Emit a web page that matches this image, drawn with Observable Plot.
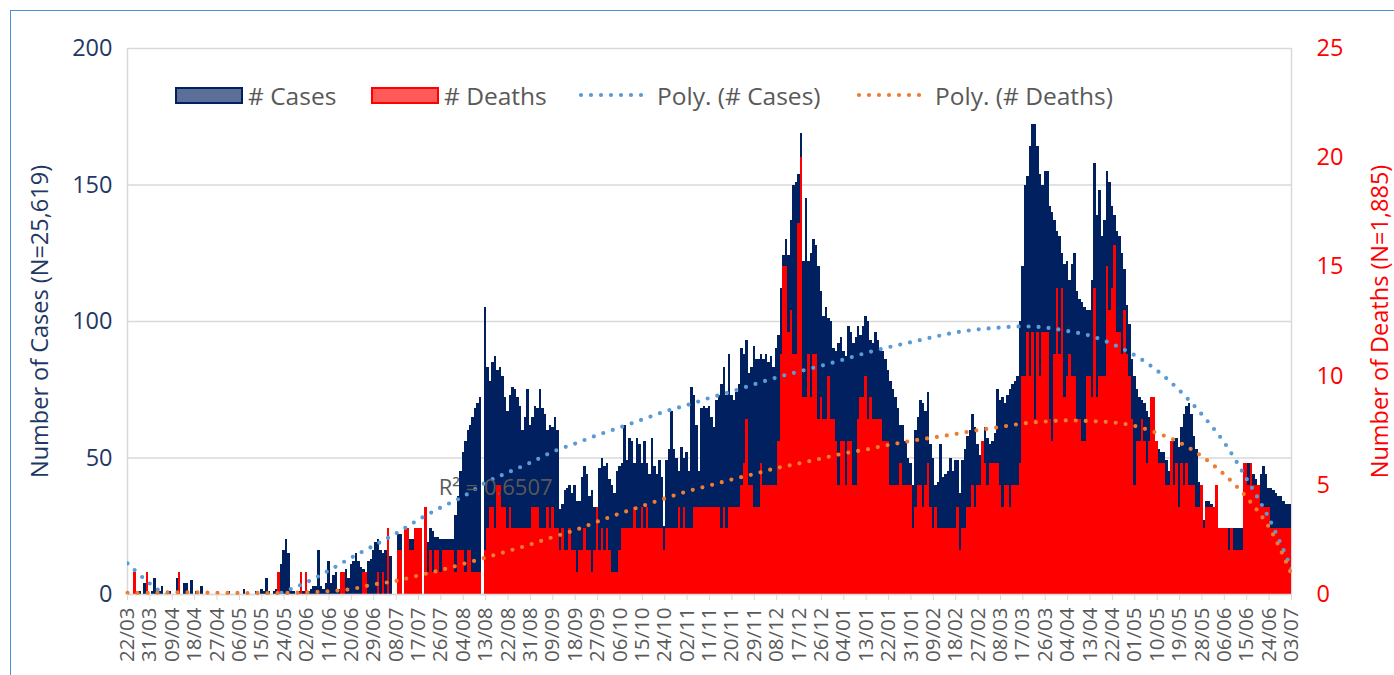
<!DOCTYPE html>
<html>
<head>
<meta charset="utf-8">
<script src="https://cdn.jsdelivr.net/npm/d3@7"></script>
<script src="https://cdn.jsdelivr.net/npm/@observablehq/plot@0.6"></script>
<style>
  html, body { margin: 0; padding: 0; background: #fff; }
  #wrap { position: relative; width: 1394px; height: 675px; overflow: hidden; font-family: "Open Sans", "Noto Sans", sans-serif; }
  #frame { position: absolute; left: 10px; top: 10px; right: -2px; bottom: -2px; border-top: 1.5px solid #4a8fd4; border-left: 1.5px solid #4a8fd4; }
  #chart { position: absolute; left: 0; top: 0; }
  .leg { position: absolute; top: 80px; height: 30px; display: flex; align-items: center; font-size: 24.5px; color: #595959; white-space: nowrap; }
  .sw { width: 68px; height: 17px; box-sizing: border-box; margin-right: 5px; }
</style>
</head>
<body>
<div id="wrap">
  <div id="frame"></div>
  <div id="chart"></div>
</div>
<script>
// ---------------- data ----------------
const tickLabels = ["22/03","31/03","09/04","18/04","27/04","06/05","15/05","24/05","02/06","11/06","20/06","29/06","08/07","17/07","26/07","04/08","13/08","22/08","31/08","09/09","18/09","27/09","06/10","15/10","24/10","02/11","11/11","20/11","29/11","08/12","17/12","26/12","04/01","13/01","22/01","31/01","09/02","18/02","27/02","08/03","17/03","26/03","04/04","13/04","22/04","01/05","10/05","19/05","28/05","06/06","15/06","24/06","03/07"];
const tickStep = 9; // days between labelled ticks

// daily cases, 22/03 .. 03/07
const cases = [
1,0,0,2,0,1,0,4,2,0,
1,6,0,1,3,0,0,1,0,0,
6,3,0,4,4,0,5,0,1,0,
3,0,0,0,0,0,0,0,0,0,
0,1,0,0,0,0,0,2,0,0,
0,0,1,0,2,1,6,1,0,1,
2,2,11,16,20,15,2,1,0,1,
2,1,2,1,2,3,3,16,3,2,
4,12,4,7,8,2,6,5,9,6,
11,12,15,12,10,9,8,12,13,16,
19,20,16,15,16,16,14,0,0,22,
22,0,20,22,20,20,18,18,20,0,
18,19,24,23,21,21,20,20,20,20,
20,20,29,36,45,52,56,60,62,65,
68,70,72,0,105,83,78,85,87,82,
83,80,72,67,73,76,75,72,69,60,
65,75,62,65,69,68,75,68,66,60,
62,61,65,60,31,33,38,39,40,37,
40,34,34,43,47,44,36,38,32,31,
46,50,47,48,42,40,37,45,47,48,
62,49,57,56,48,57,55,48,56,48,
44,57,47,44,49,43,25,49,53,67,
53,50,45,54,50,52,45,76,73,62,
45,68,69,68,69,65,61,71,73,77,
83,73,88,73,71,74,77,90,88,93,
81,83,91,86,86,88,86,88,85,87,
83,90,95,112,124,130,124,137,150,151,
154,169,122,145,122,125,130,128,120,111,
102,105,101,100,90,89,92,94,89,87,
98,96,92,94,98,95,98,102,100,93,
92,96,93,90,89,86,82,78,75,72,
68,62,62,56,50,48,40,60,65,71,
70,67,74,55,50,40,41,55,43,44,
45,50,45,49,49,37,49,53,58,60,
66,61,55,51,56,61,57,55,56,59,
75,71,72,70,73,75,77,78,80,100,
120,150,153,164,172,172,164,154,150,155,
155,142,140,137,133,131,125,121,122,115,
121,125,111,108,107,105,104,104,115,158,
139,148,131,137,155,151,142,139,133,131,
125,119,106,99,86,80,75,72,71,70,
67,65,62,60,55,53,52,52,49,45,
44,56,57,54,61,66,69,70,66,58,
53,41,40,27,34,34,33,32,32,24,
24,24,24,24,24,24,24,24,24,48,
48,48,47,44,42,40,44,47,44,39,
39,38,37,36,36,34,33,33,33
];

// daily deaths, same days
const deaths = [
0,0,0,1,0,0,0,0,1,0,
0,0,0,0,0,0,0,0,0,0,
0,1,0,0,0,0,0,0,0,0,
0,0,0,0,0,0,0,0,0,0,
0,0,0,0,0,0,0,0,0,0,
0,0,0,0,0,0,0,0,0,0,
0,1,0,0,0,0,0,0,0,0,
1,0,1,0,0,0,0,0,0,0,
0,0,0,0,0,0,1,1,0,0,
0,0,0,0,0,1,1,0,0,0,
0,1,0,1,0,3,0,0,0,2,
2,0,3,3,2,2,3,3,3,0,
4,1,2,1,2,2,1,2,2,2,
2,2,1,2,2,2,1,2,2,1,
1,1,1,0,2,3,4,4,3,5,
5,4,4,3,4,3,3,3,3,3,
3,3,3,4,4,4,3,3,3,4,
3,4,3,3,2,3,2,2,3,2,
2,1,2,2,3,2,2,1,2,4,
2,3,2,3,2,1,1,1,2,3,
3,3,3,3,4,3,3,4,3,4,
3,3,3,3,3,3,2,3,3,3,
3,3,4,3,4,3,3,3,4,4,
4,4,4,4,4,4,4,4,4,3,
4,3,4,4,4,4,4,5,6,8,
5,5,4,4,4,6,5,5,5,5,
5,5,7,11,15,15,12,13,11,11,
17,20,9,9,11,9,11,11,8,9,
8,8,10,8,8,7,5,7,7,5,
7,7,5,5,8,9,9,10,8,9,
8,8,8,8,7,7,7,5,5,5,
5,6,5,5,5,5,3,4,5,5,
4,5,6,4,3,4,3,3,3,3,
3,3,3,3,4,2,3,3,4,4,
5,4,5,5,7,6,5,6,6,6,
6,5,4,5,5,4,5,5,5,6,
10,10,12,10,12,8,12,10,12,12,
12,8,7,11,14,11,14,9,10,11,
10,10,8,8,7,7,10,10,9,14,
9,10,10,10,15,13,14,16,12,12,
11,13,11,10,8,5,7,7,8,7,
6,7,9,9,7,6,6,6,5,5,
7,5,6,4,6,5,6,5,5,5,
4,4,5,3,4,4,4,4,5,3,
3,3,3,2,3,2,2,2,2,6,
6,5,6,5,5,5,4,4,4,4,
3,3,3,3,3,3,3,3,3
];

// polynomial trend lines, one value per labelled tick
const trendCases = [11.4,4.0,-1.5,-4,-5,-4.5,-2.2,1.0,4.5,8.8,13.5,17.9,22.4,27.4,31.9,35.9,41,44.7,48.3,52.3,55.3,58.4,61.2,64.1,67,69.4,72,74.4,77,79.5,81.7,83.8,86.1,88.5,90.6,92.4,94.3,96,97.1,97.8,98.2,97.8,96.5,94.8,91.7,87.6,82,74.7,65.9,55.6,42.3,27.8,9.5];
const trendDeaths = [0.08,0.08,0.1,0.1,0.08,0.07,0.07,0.07,0.1,0.15,0.25,0.46,0.62,0.87,1.12,1.40,1.69,1.99,2.29,2.63,2.95,3.34,3.71,4.05,4.40,4.72,4.99,5.27,5.52,5.79,6.00,6.23,6.46,6.64,6.85,7.03,7.19,7.35,7.53,7.67,7.83,7.92,7.97,7.94,7.88,7.72,7.39,6.96,6.32,5.49,4.44,3.07,0.92];

const casesTicks = [0, 50, 100, 150, 200];
const deathsTicks = [0, 5, 10, 15, 20, 25];
const r2Text = "R\u00b2 = 0.6507";
const r2Anchor = {day: 148, cases: 39};

// ---------------- styling ----------------
const NAVY = "#002060", RED = "#FF0000", BLUE = "#5B9BD5", ORANGE = "#ED7D31";
const GRID = "#d9d9d9", TEXT = "#595959", NAVY_TEXT = "#1F3864";

const casesMax = d3.max(casesTicks), deathsMax = d3.max(deathsTicks);
const ratio = casesMax / deathsMax; // secondary axis scaling
const lastDay = cases.length - 1;

const rows = cases.map((c, i) => ({day: i, cases: c, deaths: deaths[i]}));
const tcRows = trendCases.map((v, k) => ({day: k * tickStep, v}));
const tdRows = trendDeaths.map((v, k) => ({day: k * tickStep, v: v * ratio}));
const tickDays = tickLabels.map((_, k) => k * tickStep);

const chart = Plot.plot({
  width: 1394,
  height: 675,
  marginLeft: 127,
  marginRight: 103,
  marginTop: 48,
  marginBottom: 81,
  style: {fontFamily: "'Open Sans', 'Noto Sans', sans-serif", background: "transparent", overflow: "visible"},
  x: {domain: [0, lastDay], label: null},
  y: {domain: [0, casesMax], label: null},
  marks: [
    Plot.gridY(casesTicks, {stroke: GRID, strokeOpacity: 1, strokeWidth: 1.5}),
    Plot.ruleX([0, lastDay], {stroke: GRID, strokeWidth: 1.5}),
    Plot.rect(rows, {x1: d => d.day - 0.5, x2: d => d.day + 0.5, y1: 0, y2: "cases", fill: NAVY, clip: true, shapeRendering: "crispEdges"}),
    Plot.rect(rows, {x1: d => d.day - 0.5, x2: d => d.day + 0.5, y1: 0, y2: d => d.deaths * ratio, fill: RED, clip: true, shapeRendering: "crispEdges"}),
    Plot.ruleY([0], {stroke: GRID, strokeWidth: 1.5}),
    Plot.line(tcRows, {x: "day", y: "v", stroke: BLUE, strokeWidth: 4.2, strokeDasharray: "0,10", strokeLinecap: "round", curve: "catmull-rom", clip: true}),
    Plot.line(tdRows, {x: "day", y: "v", stroke: ORANGE, strokeWidth: 4.2, strokeDasharray: "0,10", strokeLinecap: "round", curve: "catmull-rom"}),
    Plot.text([r2Anchor], {x: "day", y: "cases", text: () => r2Text, fill: TEXT, fontSize: 22}),
    Plot.axisY({anchor: "left", ticks: casesTicks, tickSize: 0, tickPadding: 15, fontSize: 23.5, fill: NAVY_TEXT, label: null}),
    Plot.axisY({anchor: "right", ticks: deathsTicks.map(v => v * ratio), tickFormat: v => String(Math.round(v / ratio)), tickSize: 0, tickPadding: 25, fontSize: 23.5, fill: RED, label: null, textAnchor: "start"}),
    Plot.axisX({ticks: tickDays, tickFormat: d => tickLabels[Math.round(d / tickStep)], tickRotate: -90, tickSize: 6, tickPadding: 7, fontSize: 20.5, fill: TEXT, stroke: GRID, label: null}),
    Plot.text(["Number of Cases (N=25,619)"], {frameAnchor: "left", textAnchor: "middle", rotate: -90, dx: -87, fontSize: 23.5, fill: NAVY_TEXT}),
    Plot.text(["Number of Deaths (N=1,885)"], {frameAnchor: "right", textAnchor: "middle", rotate: -90, dx: 89, fontSize: 23.5, fill: RED})
  ]
});
document.getElementById("chart").appendChild(chart);

// ---------------- legend ----------------
const wrap = document.getElementById("wrap");
function dotted(color) {
  return `<svg width="74" height="10" style="margin-right:5px"><line x1="3" y1="5" x2="71" y2="5" stroke="${color}" stroke-width="4.2" stroke-linecap="round" stroke-dasharray="0,10"/></svg>`;
}
const legendItems = [
  {left: 175, html: `<div class="sw" style="background:#5B6F99;border:2px solid ${NAVY}"></div># Cases`},
  {left: 371, html: `<div class="sw" style="background:#FF5A5A;border:2px solid ${RED}"></div># Deaths`},
  {left: 578, html: dotted(BLUE) + "Poly. (# Cases)"},
  {left: 856, html: dotted(ORANGE) + "Poly. (# Deaths)"}
];
for (const it of legendItems) {
  const d = document.createElement("div");
  d.className = "leg";
  d.style.left = it.left + "px";
  d.innerHTML = it.html;
  wrap.appendChild(d);
}
</script>
</body>
</html>
